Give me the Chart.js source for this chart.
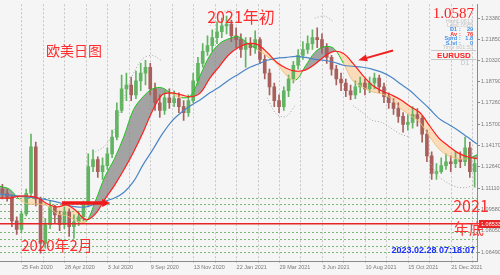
<!DOCTYPE html>
<html lang="zh">
<head>
<meta charset="utf-8">
<title>EURUSD D1</title>
<script src="https://cdn.jsdelivr.net/npm/chart.js@4.4.1/dist/chart.umd.min.js"></script>
<style>
  html, body { margin: 0; padding: 0; background: #f5f5f5; }
  #wrap { width: 500px; height: 275px; position: relative; }
</style>
</head>
<body>
<div id="wrap"><canvas id="eurusd"></canvas></div>
<script>
// Velas (una por semana, eje x en semanas desde el borde izquierdo)
const opens = [1.1103,1.1074,1.1046,1.0875,1.0812,1.0925,1.1074,1.1408,1.1032,1.0712,
  1.0847,1.0975,1.0918,1.0847,1.0939,1.0833,1.0868,1.0904,1.0989,1.1266,
  1.1316,1.1230,1.1273,1.1358,1.1479,1.1671,1.1827,1.1855,1.1784,1.1884,
  1.1940,1.1983,1.1827,1.1727,1.1671,1.1763,1.1727,1.1756,1.1699,1.1656,
  1.1742,1.1884,1.2011,1.2097,1.2139,1.2196,1.2239,1.2281,1.2295,1.2210,
  1.2182,1.2111,1.2153,1.2125,1.2182,1.2040,1.1940,1.1841,1.1742,1.1699,
  1.1813,1.1898,1.1997,1.2068,1.2111,1.2153,1.2196,1.2182,1.2125,1.2054,
  1.1969,1.1898,1.1869,1.1813,1.1784,1.1841,1.1869,1.1827,1.1869,1.1905,
  1.1841,1.1770,1.1727,1.1685,1.1628,1.1571,1.1585,1.1642,1.1614,1.1500,
  1.1344,1.1216,1.1230,1.1273,1.1301,1.1287,1.1316,1.1301,1.1401,1.1230];
const highs = [1.1138,1.1103,1.1060,1.0904,1.0946,1.1103,1.1500,1.1443,1.1046,1.0890,
  1.1017,1.0989,1.0946,1.0975,1.0961,1.0918,1.0946,1.1017,1.1358,1.1387,
  1.1337,1.1330,1.1401,1.1529,1.1727,1.1926,1.1940,1.1912,1.1955,1.2011,
  1.2033,1.2011,1.1869,1.1784,1.1813,1.1827,1.1813,1.1798,1.1742,1.1784,
  1.1940,1.2054,1.2153,1.2210,1.2253,1.2310,1.2338,1.2352,1.2324,1.2267,
  1.2224,1.2196,1.2196,1.2246,1.2196,1.2068,1.1969,1.1869,1.1784,1.1841,
  1.1926,1.2026,1.2111,1.2168,1.2210,1.2253,1.2267,1.2224,1.2153,1.2068,
  1.1997,1.1940,1.1898,1.1855,1.1884,1.1912,1.1898,1.1912,1.1940,1.1926,
  1.1869,1.1798,1.1756,1.1727,1.1656,1.1642,1.1699,1.1685,1.1628,1.1529,
  1.1372,1.1287,1.1330,1.1358,1.1344,1.1372,1.1372,1.1479,1.1443,1.1330];
const lows = [1.1032,1.1017,1.0833,1.0776,1.0790,1.0911,1.1053,1.0982,1.0641,1.0677,
  1.0819,1.0861,1.0804,1.0819,1.0762,1.0748,1.0840,1.0875,1.0975,1.1230,
  1.1188,1.1174,1.1245,1.1330,1.1458,1.1656,1.1742,1.1742,1.1756,1.1813,
  1.1855,1.1784,1.1671,1.1621,1.1642,1.1685,1.1699,1.1656,1.1600,1.1628,
  1.1727,1.1855,1.1983,1.2068,1.2097,1.2153,1.2196,1.2224,1.2168,1.2125,
  1.2054,1.1983,1.2068,1.2082,1.2011,1.1898,1.1784,1.1699,1.1656,1.1671,
  1.1770,1.1869,1.1969,1.2040,1.2082,1.2111,1.2125,1.2082,1.2011,1.1926,
  1.1855,1.1813,1.1770,1.1749,1.1756,1.1799,1.1784,1.1799,1.1827,1.1799,
  1.1727,1.1685,1.1642,1.1585,1.1514,1.1529,1.1543,1.1557,1.1443,1.1301,
  1.1174,1.1174,1.1216,1.1245,1.1230,1.1259,1.1259,1.1273,1.1188,1.1117];
const closes = [1.1074,1.1046,1.0875,1.0812,1.0925,1.1074,1.1408,1.1032,1.0712,1.0847,
  1.0975,1.0918,1.0847,1.0939,1.0833,1.0868,1.0904,1.0989,1.1266,1.1316,
  1.1230,1.1273,1.1358,1.1479,1.1671,1.1827,1.1855,1.1784,1.1884,1.1940,
  1.1983,1.1827,1.1727,1.1671,1.1763,1.1727,1.1756,1.1699,1.1656,1.1742,
  1.1884,1.2011,1.2097,1.2139,1.2196,1.2239,1.2281,1.2295,1.2210,1.2182,
  1.2111,1.2153,1.2125,1.2182,1.2040,1.1940,1.1841,1.1742,1.1699,1.1813,
  1.1898,1.1997,1.2068,1.2111,1.2153,1.2196,1.2182,1.2125,1.2054,1.1969,
  1.1898,1.1869,1.1813,1.1784,1.1841,1.1869,1.1827,1.1869,1.1905,1.1841,
  1.1770,1.1727,1.1685,1.1628,1.1571,1.1585,1.1642,1.1614,1.1500,1.1344,
  1.1216,1.1230,1.1273,1.1301,1.1287,1.1316,1.1301,1.1401,1.1230,1.1287];

// Medias moviles, leidas cada 2 semanas
const maStep = 2;
const redMA = [1.1039,1.1039,1.1053,1.1053,1.1039,1.0996,1.0975,1.0989,1.0946,1.0883,
  1.0925,1.1032,1.1131,1.1245,1.1372,1.1514,1.1671,1.1784,1.1798,1.1784,
  1.1770,1.1798,1.1905,1.1990,1.2075,1.2125,1.2153,1.2146,1.2090,1.2019,
  1.1976,1.1955,1.1962,1.2004,1.2061,1.2097,1.2082,1.2011,1.1926,1.1855,
  1.1813,1.1784,1.1749,1.1699,1.1656,1.1564,1.1472,1.1415,1.1365,1.1337,1.1323];
const greenMA = [1.1124,1.1103,1.1032,1.0996,1.0996,1.0982,1.0925,1.0911,1.0875,1.0868,
  1.1017,1.1195,1.1323,1.1486,1.1678,1.1770,1.1827,1.1834,1.1791,1.1763,
  1.1777,1.1926,1.2068,1.2153,1.2189,1.2203,1.2153,1.2111,1.2061,1.2011,
  1.1926,1.1891,1.1990,1.2090,1.2132,1.2118,1.2011,1.1884,1.1841,1.1806,
  1.1791,1.1756,1.1685,1.1635,1.1585,1.1486,1.1394,1.1344,1.1323,1.1323,1.1351];
const blueMA = [1.1067,1.1060,1.1053,1.1046,1.1039,1.1025,1.1010,1.0989,1.0975,1.0975,
  1.0996,1.1017,1.1039,1.1081,1.1159,1.1280,1.1387,1.1500,1.1593,1.1656,
  1.1706,1.1749,1.1798,1.1841,1.1891,1.1933,1.1976,1.2004,1.2033,1.2047,
  1.2054,1.2061,1.2054,1.2040,1.2033,1.2019,1.1997,1.1990,1.1983,1.1969,
  1.1948,1.1912,1.1862,1.1813,1.1749,1.1685,1.1614,1.1571,1.1529,1.1479,1.1429];
// Bandas punteadas (solo los tramos visibles)
const upperBand = [null,null,null,null,null,null,null,null,null,null,
  1.1372,1.1415,1.1529,1.1763,1.1940,1.2047,1.2068,1.2026,null,null,
  null,null,1.2281,1.2366,1.2395,1.2381,null,null,null,null,
  null,null,null,1.2338,1.2352,1.2310,null,null,null,null,
  null,null,null,null,null,null,null,null,null,null,null];
const lowerBand = [null,null,null,null,null,null,null,null,null,null,
  null,null,null,null,null,null,null,null,null,null,
  null,null,null,null,null,null,null,null,1.1763,1.1642,
  1.1628,1.1713,null,null,null,null,null,1.1706,1.1656,1.1600,
  1.1585,1.1543,1.1500,1.1479,null,1.1302,1.1195,1.1145,1.1117,1.1117,1.1145];

// Ejes
const priceTicks = [1.2338,1.2185,1.2032,1.1879,1.1726,1.1570,1.1417,1.1264,1.1111,1.0958,1.0805,1.0649];
const dateTicks = [4.6,13.6,22.6,31.6,40.6,49.6,58.6,67.6,76.6,85.6,94.6];
const dateLabels = ['25 Feb 2020','28 Apr 2020','3 Jul 2020','9 Sep 2020','13 Nov 2020','22 Jan 2021',
  '29 Mar 2021','3 Jun 2021','10 Aug 2021','15 Oct 2021','21 Dec 2021'];
const gridWeeks = [9.1,18.1,27.1,36.1,45.1,54.1,63.1,72.1,81.1,90.1,99.1];
const levelLines = [1.1041,1.0994,1.0945,1.0895,1.0793,1.0746,1.0694,1.0647];
const currentPrice = 1.08533;
const bidPrice = '1.0587';
const infoRows = [['High','1.0613'],['Low','1.0585'],['D1','29'],['Av','76'],['Sprd','1.8'],['S.lvl','0']];
const serverTime = '2023.02.28 07:18:07';

const BULL = '#62b462';
const BEAR = '#a8605c';
const RED_TXT = '#ff2e2e';

Chart.defaults.font.family = "'Liberation Sans', Arial, sans-serif";

// Flecha simple
function drawArrow(ctx, x1, y1, x2, y2, lineW, headLen, headW, color) {
  const ang = Math.atan2(y2 - y1, x2 - x1);
  const bx = x2 - Math.cos(ang) * headLen;
  const by = y2 - Math.sin(ang) * headLen;
  ctx.save();
  ctx.strokeStyle = color;
  ctx.fillStyle = color;
  ctx.lineWidth = lineW;
  ctx.beginPath();
  ctx.moveTo(x1, y1);
  ctx.lineTo(bx, by);
  ctx.stroke();
  ctx.beginPath();
  ctx.moveTo(x2, y2);
  ctx.lineTo(bx + Math.sin(ang) * headW / 2, by - Math.cos(ang) * headW / 2);
  ctx.lineTo(bx - Math.sin(ang) * headW / 2, by + Math.cos(ang) * headW / 2);
  ctx.closePath();
  ctx.fill();
  ctx.restore();
}

function text(ctx, str, x, y, font, color, align) {
  ctx.font = font;
  ctx.fillStyle = color;
  ctx.textAlign = align || 'center';
  ctx.textBaseline = 'middle';
  ctx.fillText(str, x, y);
}

// Lineas horizontales, flechas y textos encima del grafico
const overlayPlugin = {
  id: 'overlay',
  beforeDraw(chart) {
    const { ctx, width, height } = chart;
    ctx.save();
    ctx.fillStyle = '#f5f5f5';
    ctx.fillRect(0, 0, width, height);
    ctx.restore();
  },
  beforeDatasetsDraw(chart) {
    const { ctx, chartArea, scales: { y } } = chart;
    ctx.save();
    ctx.strokeStyle = '#79b879';
    ctx.lineWidth = 1;
    ctx.setLineDash([2, 2]);
    levelLines.forEach(v => {
      const py = Math.round(y.getPixelForValue(v)) + 0.5;
      ctx.beginPath();
      ctx.moveTo(chartArea.left, py);
      ctx.lineTo(chartArea.right, py);
      ctx.stroke();
    });
    ctx.restore();
  },
  afterDatasetsDraw(chart) {
    const { ctx, chartArea, scales: { x, y } } = chart;
    const py = y.getPixelForValue(currentPrice);
    ctx.save();
    ctx.strokeStyle = '#e62626';
    ctx.lineWidth = 1.5;
    ctx.beginPath();
    ctx.moveTo(chartArea.left, py);
    ctx.lineTo(chartArea.right, py);
    ctx.stroke();
    ctx.restore();
    drawArrow(ctx, x.getPixelForValue(82.4), y.getPixelForValue(1.2104),
      x.getPixelForValue(75.1), y.getPixelForValue(1.2033), 2, 9, 7, '#f02020');
    drawArrow(ctx, x.getPixelForValue(13.0), y.getPixelForValue(1.1003),
      x.getPixelForValue(23.1), y.getPixelForValue(1.1003), 3.5, 8, 8, '#f01818');
  },
  afterDraw(chart) {
    const { ctx, scales: { y } } = chart;
    ctx.save();
    const cjk = "'Noto Sans CJK SC', sans-serif";
    text(ctx, '欧美日图', 74, 51, '14px ' + cjk, RED_TXT);
    text(ctx, '2021年初', 241, 17, '16px ' + cjk, RED_TXT);
    text(ctx, '2020年2月', 57, 245, '15px ' + cjk, RED_TXT);

    // etiqueta del precio actual en el eje
    const py = Math.round(y.getPixelForValue(currentPrice));
    ctx.fillStyle = '#e62626';
    ctx.fillRect(479, py - 4, 21, 8);
    text(ctx, currentPrice.toFixed(5), 481, py, '5.5px "Liberation Sans"', '#ffffff', 'left');

    text(ctx, '2021', 471, 206, '16px ' + cjk, RED_TXT);
    text(ctx, '年底', 469, 228, '15px ' + cjk, RED_TXT);
    text(ctx, serverTime, 475, 251, 'bold 9px "Liberation Sans"', '#1b2dff', 'right');

    // panel de informacion
    ctx.font = '15px "Liberation Serif", serif';
    ctx.fillStyle = '#ff2020';
    ctx.textAlign = 'right';
    ctx.textBaseline = 'alphabetic';
    ctx.fillText(bidPrice, 474, 18);
    const rowColors = ['#c4c4c4', '#c4c4c4', '#3d8fe8', '#ff2e2e', '#3d8fe8', '#3d8fe8'];
    infoRows.forEach((row, k) => {
      const ry = 21 + k * 4.4;
      const f = (k < 2 ? '' : 'bold ') + '5.5px "Liberation Sans"';
      text(ctx, row[0], 457, ry, f, rowColors[k], 'right');
      text(ctx, ':', 460, ry, f, rowColors[k], 'center');
      text(ctx, row[1], 473, ry, f, rowColors[k], 'right');
    });
    text(ctx, 'Time b01:53', 473, 47.5, '5.5px "Liberation Sans"', '#c4c4c4', 'right');
    ctx.strokeStyle = '#c8c8c8';
    ctx.lineWidth = 1;
    ctx.beginPath();
    ctx.moveTo(431, 50.5);
    ctx.lineTo(476, 50.5);
    ctx.stroke();
    text(ctx, 'EURUSD', 454, 55.5, 'bold 8px "Liberation Sans"', '#ff2020');
    ctx.beginPath();
    ctx.moveTo(431, 59.5);
    ctx.lineTo(476, 59.5);
    ctx.stroke();
    text(ctx, 'D1', 465, 63, '6.5px "Liberation Sans"', '#c0c0c0');
    ctx.restore();
  }
};

function buildDatasets() {
  const candleColor = opens.map((o, i) => closes[i] >= o ? BULL : BEAR);
  const maPoints = arr => arr.map((v, j) => ({ x: j * maStep, y: v }));
  return [
    {
      label: 'wicks',
      data: opens.map((o, i) => ({ x: i + 0.5, y: [lows[i], highs[i]] })),
      backgroundColor: candleColor,
      barThickness: 1,
      grouped: false,
      order: 5
    },
    {
      label: 'bodies',
      data: opens.map((o, i) => ({ x: i + 0.5, y: [o, closes[i]] })),
      backgroundColor: candleColor,
      barThickness: 3,
      grouped: false,
      order: 4
    },
    {
      type: 'line',
      label: 'MA red',
      data: maPoints(redMA),
      borderColor: '#ff1e1e',
      borderWidth: 1.2,
      pointRadius: 0,
      tension: 0.35,
      fill: false,
      order: 1
    },
    {
      type: 'line',
      label: 'MA green',
      data: maPoints(greenMA),
      borderColor: '#1fc41f',
      borderWidth: 1,
      pointRadius: 0,
      tension: 0.35,
      fill: { target: 2, above: 'rgba(135,135,135,0.75)', below: 'rgba(255,196,130,0.5)' },
      segment: {
        borderColor: c => (greenMA[c.p0DataIndex] < redMA[c.p0DataIndex] &&
          greenMA[c.p1DataIndex] < redMA[c.p1DataIndex]) ? 'rgba(240,190,120,0.9)' : '#1fc41f'
      },
      order: 2
    },
    {
      type: 'line',
      label: 'MA blue',
      data: maPoints(blueMA),
      borderColor: '#4a86c6',
      borderWidth: 1.2,
      pointRadius: 0,
      tension: 0.35,
      fill: false,
      order: 1
    },
    {
      type: 'line',
      label: 'upper',
      data: maPoints(upperBand),
      borderColor: '#a8a8a8',
      borderWidth: 1,
      borderDash: [1, 2],
      pointRadius: 0,
      tension: 0.3,
      spanGaps: false,
      fill: false,
      order: 3
    },
    {
      type: 'line',
      label: 'lower',
      data: maPoints(lowerBand),
      borderColor: '#a8a8a8',
      borderWidth: 1,
      borderDash: [1, 2],
      pointRadius: 0,
      tension: 0.3,
      spanGaps: false,
      fill: false,
      order: 3
    }
  ];
}

const ctx = document.getElementById('eurusd').getContext('2d');
new Chart(ctx, {
  type: 'bar',
  data: { datasets: buildDatasets() },
  options: {
    responsive: true,
    maintainAspectRatio: false,
    animation: false,
    devicePixelRatio: 1,
    layout: { padding: 0 },
    plugins: {
      legend: { display: false },
      tooltip: { enabled: false },
      filler: { drawTime: 'beforeDatasetsDraw' }
    },
    scales: {
      x: {
        type: 'linear',
        min: 0,
        max: 100,
        offset: false,
        afterBuildTicks: s => {
          s.ticks = dateTicks.concat(gridWeeks).sort((a, b) => a - b).map(v => ({ value: v }));
        },
        afterFit: s => { s.height = 14; },
        ticks: {
          autoSkip: false,
          maxRotation: 0,
          minRotation: 0,
          align: 'start',
          padding: 1,
          color: '#7a7a7a',
          font: { size: 5.5 },
          callback: v => {
            const k = dateTicks.indexOf(v);
            return k >= 0 ? dateLabels[k] : '';
          }
        },
        grid: { color: '#c6c6c6', tickLength: 2, offset: false },
        border: { display: true, color: '#8c8c8c', dash: [2, 2] }
      },
      y: {
        position: 'right',
        min: 1.0585,
        max: 1.2437,
        afterBuildTicks: s => { s.ticks = priceTicks.map(v => ({ value: v })); },
        afterFit: s => { s.width = 23; },
        ticks: {
          padding: 1,
          color: '#7a7a7a',
          font: { size: 5.5 },
          callback: v => v.toFixed(5)
        },
        grid: { drawOnChartArea: false, tickLength: 3, color: '#8c8c8c' },
        border: { display: true, color: '#8c8c8c' }
      }
    }
  },
  plugins: [overlayPlugin]
});
</script>
</body>
</html>
